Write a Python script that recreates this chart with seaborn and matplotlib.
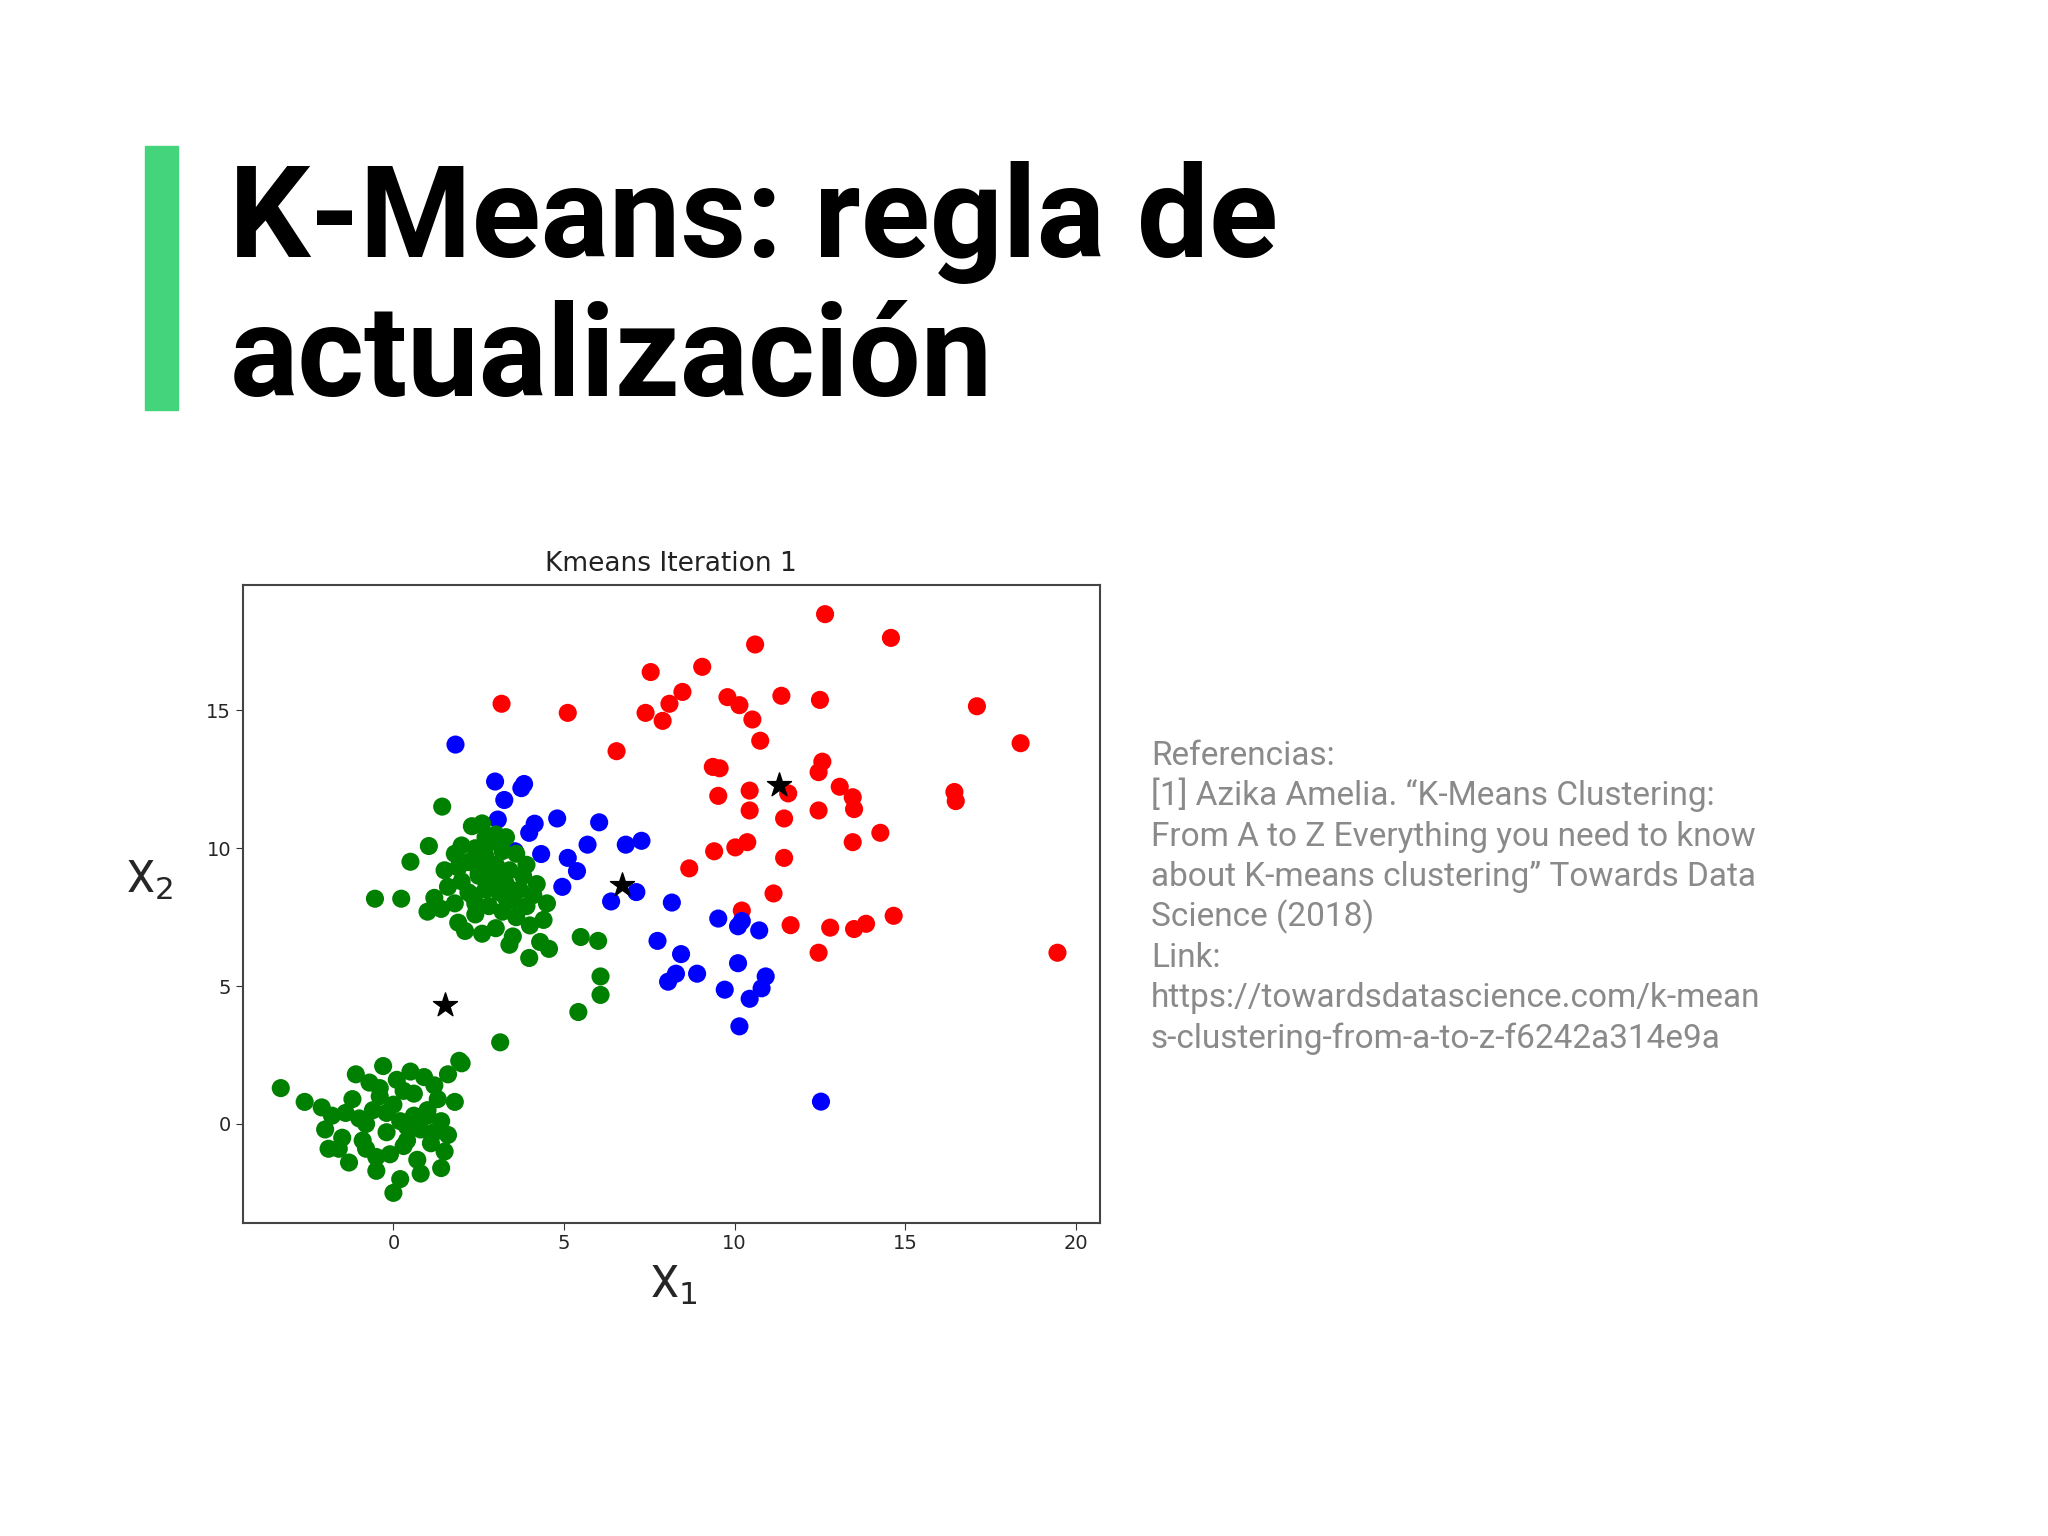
import numpy as np
import pandas as pd
import seaborn as sns
import matplotlib.pyplot as plt
from matplotlib.patches import Rectangle

# cluster points
red_x = [12.65, 14.58, 10.60, 7.54, 9.05, 8.47, 8.09, 7.39, 7.89, 9.79, 10.14, 10.52, 10.75, 11.37, 12.50,
         3.17, 5.11, 17.10, 18.38, 6.54, 9.36, 9.56, 12.57, 12.46, 13.08, 13.46, 13.50, 9.52, 10.44, 11.57,
         12.46, 11.45, 10.44, 14.27, 13.46, 8.67, 9.40, 10.02, 10.37, 11.45, 16.44, 16.48, 11.14, 10.21,
         11.64, 12.80, 13.50, 13.85, 14.66, 12.46, 19.46]
red_y = [18.49, 17.63, 17.39, 16.39, 16.58, 15.67, 15.24, 14.91, 14.62, 15.48, 15.19, 14.67, 13.90, 15.53, 15.38,
         15.24, 14.91, 15.15, 13.81, 13.52, 12.95, 12.90, 13.14, 12.76, 12.23, 11.85, 11.42, 11.90, 12.09, 11.99,
         11.37, 11.08, 11.37, 10.56, 10.22, 9.27, 9.89, 10.03, 10.22, 9.65, 12.04, 11.71, 8.36, 7.74,
         7.21, 7.12, 7.07, 7.26, 7.55, 6.21, 6.21]

blue_x = [1.82, 2.98, 3.25, 3.75, 3.83, 3.06, 3.98, 4.14, 4.80, 6.03, 5.69, 6.81, 7.27, 3.56, 4.33, 5.11,
          5.38, 4.95, 6.38, 7.12, 8.16, 9.52, 7.74, 8.43, 10.10, 10.21, 10.72, 8.90, 8.05, 8.28, 10.10,
          9.71, 10.44, 10.79, 10.91, 10.14, 12.53]
blue_y = [13.76, 12.42, 11.75, 12.18, 12.33, 11.04, 10.56, 10.89, 11.08, 10.94, 10.13, 10.13, 10.27, 9.89, 9.79, 9.65,
          9.17, 8.60, 8.07, 8.41, 8.03, 7.45, 6.64, 6.16, 7.17, 7.36, 7.02, 5.45, 5.16, 5.45, 5.83,
          4.87, 4.54, 4.92, 5.35, 3.54, 0.81]

green_x = [1.43, 1.04, 0.50, -0.54, 0.23, 5.49, 6.00, 4.56, 3.98, 6.07, 6.07, 5.42, 3.13, 1.93,
           # upper dense blob
           2.3, 2.6, 3.0, 3.3, 1.8, 2.0, 2.4, 2.8, 3.2, 3.6, 3.9, 1.5, 1.9, 2.2, 2.6, 3.0, 3.4, 3.8, 4.2,
           1.2, 1.6, 2.0, 2.5, 2.9, 3.3, 3.7, 4.1, 4.5, 1.4, 1.8, 2.3, 2.7, 3.1, 3.5, 3.9, 4.4, 1.9, 2.4,
           2.8, 3.2, 3.6, 4.0, 2.1, 2.6, 3.0, 3.5, 1.0, 4.3, 2.7, 3.4,
           2.5, 2.9, 3.1, 2.2, 2.7, 3.3, 2.4, 2.8,
           # lower blob
           -3.3, -2.6, -2.1, -2.0, -1.8, -1.5, -1.2, -1.0, -0.8, -0.6, -0.4, -0.2, 0.0, 0.2, 0.4, 0.6,
           0.8, 1.0, 1.2, 1.4, 1.6, 2.0, -1.6, -1.3, -0.9, -0.5, -0.1, 0.3, 0.7, 1.1, 1.5, -1.1, -0.7,
           -0.3, 0.1, 0.5, 0.9, 1.3, -0.8, -0.2, 0.4, 1.0, -0.5, 0.2, 0.8, 1.4, 0.0, -1.9, 1.8, -0.4,
           0.6, 0.3, -1.4, 1.2, 1.6]
green_y = [11.51, 10.08, 9.51, 8.17, 8.17, 6.78, 6.64, 6.35, 6.02, 5.35, 4.68, 4.06, 2.96, 2.29,
           10.8, 10.9, 10.5, 10.4, 9.8, 10.1, 10.0, 10.2, 9.9, 9.8, 9.4, 9.2, 9.3, 9.5, 9.6, 9.4, 9.2, 9.0, 8.7,
           8.2, 8.6, 8.8, 9.0, 8.9, 8.7, 8.5, 8.3, 8.0, 7.8, 8.0, 8.3, 8.5, 8.4, 8.1, 7.9, 7.4, 7.3, 7.6,
           7.9, 7.7, 7.5, 7.2, 7.0, 6.9, 7.1, 6.8, 7.7, 6.6, 10.4, 6.5,
           9.1, 8.6, 8.9, 8.4, 9.7, 8.2, 8.0, 9.3,
           1.3, 0.8, 0.6, -0.2, 0.3, -0.5, 0.9, 0.2, -0.9, 0.5, 1.3, -0.3, 0.7, 0.1, -0.6, 1.1,
           -0.2, 0.5, 1.4, 0.1, -0.4, 2.2, -0.9, -1.4, -0.6, -1.7, -1.1, -0.8, -1.3, -0.7, -1.0, 1.8, 1.5,
           2.1, 1.6, 1.9, 1.7, 0.9, 0.0, 0.4, -0.1, 0.3, -1.2, -2.0, -1.8, -1.6, -2.5, -0.9, 0.8, 1.0,
           0.3, 1.2, 0.4, -0.3, 1.8]

centroid_x = [1.51, 6.69, 11.30]
centroid_y = [4.30, 8.65, 12.28]

refs = [
    "Referencias:",
    "[1] Azika Amelia. \u201cK-Means Clustering:",
    "From A to Z Everything you need to know",
    "about K-means clustering\u201d Towards Data",
    "Science (2018)",
    "Link:",
    "https://towardsdatascience.com/k-mean",
    "s-clustering-from-a-to-z-f6242a314e9a",
]

df = pd.DataFrame({
    "x": red_x + blue_x + green_x,
    "y": red_y + blue_y + green_y,
    "c": ["r"] * len(red_x) + ["b"] * len(blue_x) + ["g"] * len(green_x),
})

sns.set_style("white")
plt.rcParams['font.family'] = ['DejaVu Sans']

fig = plt.figure(figsize=(20.48, 15.36), dpi=100)
ax = fig.add_axes([0.1186, 0.204, 0.4184, 0.415])
sns.scatterplot(data=df, x="x", y="y", hue="c", palette={"r": "red", "b": "blue", "g": "green"},
                s=170, linewidth=0, legend=False, ax=ax)
ax.scatter(centroid_x, centroid_y, marker="*", s=330, color="black", zorder=5)
ax.set_xlim(-4.41, 20.7)
ax.set_ylim(-3.58, 19.54)
ax.set_xticks([0, 5, 10, 15, 20])
ax.set_yticks([0, 5, 10, 15])
ax.tick_params(labelsize=14, length=5, left=True, bottom=True, color="#333333")
for sp in ax.spines.values():
    sp.set_color("#444444")
    sp.set_linewidth(1.5)
ax.set_xlabel("")
ax.set_ylabel("")
ax.set_title("Kmeans Iteration 1", fontsize=19, color="#222222", pad=10)

fig.text(0.329, 0.163, "X$_1$", fontsize=32, family="Roboto", ha="center", va="center")
fig.text(0.073, 0.427, "X$_2$", fontsize=32, family="Roboto", ha="center", va="center")

fig.patches.append(Rectangle((0.0709, 0.733), 0.0161, 0.172, transform=fig.transFigure,
                             color="#44d47c", zorder=3))
fig.text(0.112, 0.833, "K-Means: regla de", fontsize=92, fontweight="bold", family="Roboto",
         color="black", ha="left", va="baseline")
fig.text(0.112, 0.742, "actualización", fontsize=92, fontweight="bold", family="Roboto",
         color="black", ha="left", va="baseline")

for i, line in enumerate(refs):
    fig.text(0.562, 0.502 - i * 0.0263, line, fontsize=24, family="Roboto", color="#8a8a8a",
             ha="left", va="baseline")

fig.savefig("out.png", dpi=100)
